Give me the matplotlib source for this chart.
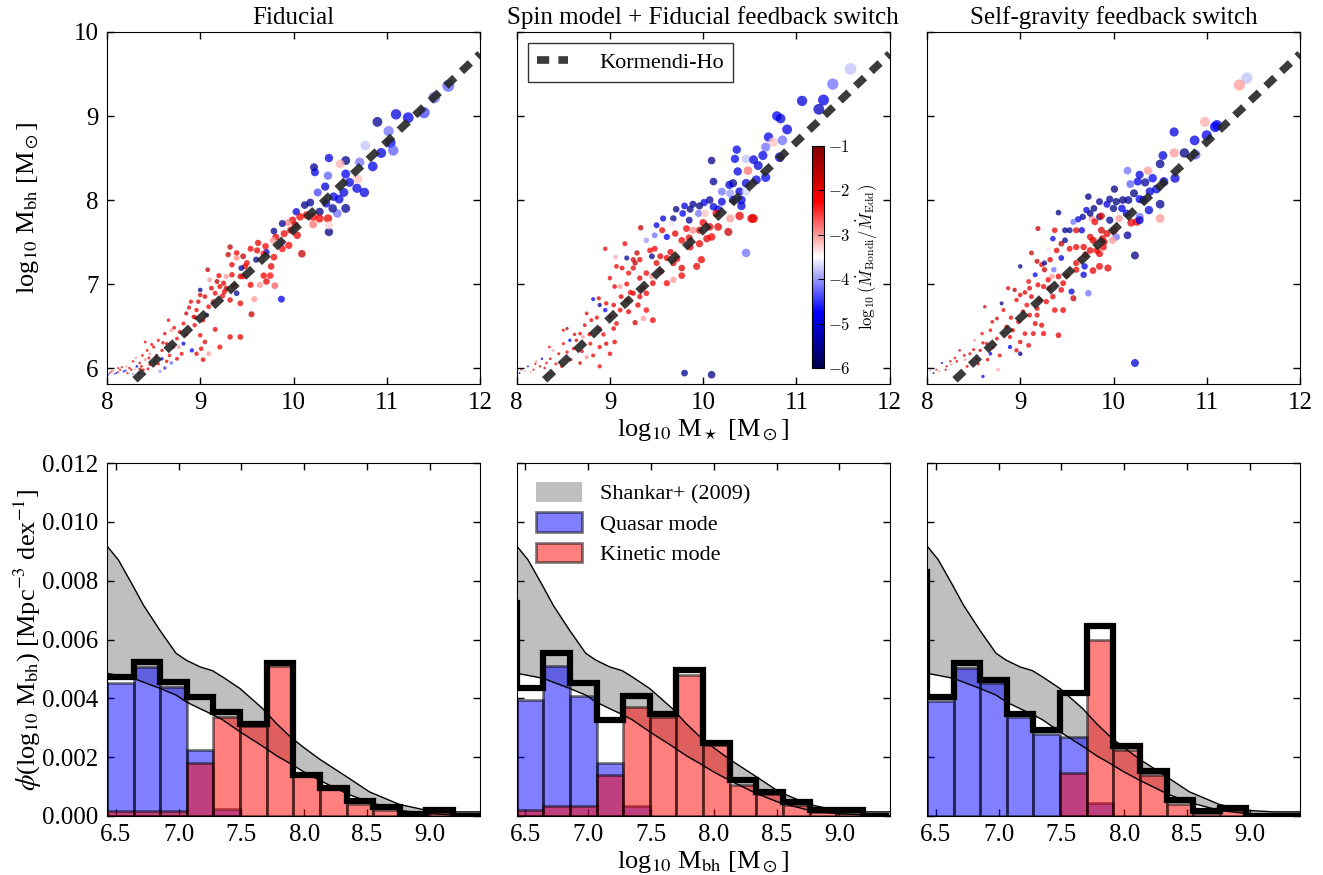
import numpy as np
import matplotlib
matplotlib.use('Agg')
import matplotlib.pyplot as plt
from matplotlib.patches import Patch

plt.rcParams['font.family'] = 'serif'
plt.rcParams['font.serif'] = ['Liberation Serif', 'DejaVu Serif']
plt.rcParams['mathtext.fontset'] = 'stix'
plt.rcParams['xtick.direction'] = 'in'
plt.rcParams['ytick.direction'] = 'in'
plt.rcParams['xtick.top'] = True
plt.rcParams['ytick.right'] = True

# ---------------- data ----------------
titles = ['Fiducial', 'Spin model + Fiducial feedback switch', 'Self-gravity feedback switch']

# Panel 1 : log10 M*, log10 Mbh, log10(Mdot_Bondi/Mdot_Edd)
p1_x = [11.66, 11.51, 11.40, 11.23, 11.10, 10.90, 11.02, 11.04, 11.07, 10.94,
        10.77, 10.71, 10.85, 10.76, 10.68, 10.69, 10.60, 10.56, 10.56, 10.50,
        10.38, 10.22, 10.23, 10.37, 10.34, 10.26, 10.54, 10.49, 10.43, 10.47,
        10.56, 10.42, 10.35, 10.28, 10.18, 10.12, 10.03, 10.38, 10.37, 10.28,
        10.21, 10.14, 10.21, 10.38, 10.07, 9.99, 9.97, 9.94, 9.88, 9.79,
        9.81, 9.78, 10.04, 9.95, 9.87, 9.88, 10.09, 9.79, 9.71, 9.68,
        9.60, 9.54, 9.61, 9.76, 9.68, 9.75, 9.80, 9.48, 9.43, 9.46,
        9.50, 9.46, 9.44, 9.39, 9.32, 9.30, 9.39, 9.34, 9.34, 9.28,
        9.25, 9.21, 9.28, 9.18, 9.26, 9.32, 9.43, 9.39, 9.54, 9.64,
        9.58, 9.71, 9.55, 9.87, 9.43, 9.32, 9.21, 9.16, 9.08, 9.10,
        9.16, 9.14, 9.09, 9.00, 9.00, 9.07, 9.03, 8.98, 8.96, 8.93,
        8.90, 8.94, 9.00, 9.05, 9.01, 8.96, 9.09, 9.03, 8.91, 8.85,
        8.82, 8.78, 8.75, 8.71, 8.66, 8.69, 8.62, 8.64, 8.59, 8.55,
        8.50, 8.46, 8.41, 8.43, 8.82, 8.80, 8.75, 8.69, 8.64, 8.59,
        8.51, 8.46, 8.41, 8.35, 8.32, 8.28, 8.26, 8.21, 8.18, 8.14,
        8.10, 8.07, 8.03, 8.01, 8.34, 8.57, 8.39, 8.05, 8.12, 8.20,
        8.24, 8.30, 8.16, 8.08, 8.37, 8.45, 8.53,
        8.88, 8.95, 9.12, 9.20, 9.05, 8.85, 8.72, 8.60, 8.67, 8.77,
        9.24, 9.36, 8.52, 8.48, 8.38, 8.31, 8.44, 8.55, 8.62, 8.12,
        8.22, 8.28, 8.35, 9.62, 9.70, 9.90, 10.02]
p1_y = [9.36, 9.22, 9.04, 8.98, 9.02, 8.93, 8.82, 8.68, 8.59, 8.56,
        8.65, 8.45, 8.40, 8.09, 8.14, 8.25, 8.21, 8.31, 8.47, 8.43,
        8.50, 8.39, 8.33, 8.29, 8.16, 8.09, 8.09, 8.01, 8.04, 7.84,
        7.90, 7.90, 7.96, 7.86, 7.97, 7.94, 7.86, 7.62, 7.78, 7.78,
        7.80, 7.82, 7.71, 7.70, 7.80, 7.76, 7.64, 7.73, 7.72, 7.63,
        7.56, 7.52, 7.58, 7.46, 7.48, 7.42, 7.36, 7.32, 7.38, 7.36,
        7.29, 7.42, 7.40, 7.21, 7.10, 7.10, 6.98, 7.21, 7.09, 7.09,
        7.25, 7.33, 7.19, 7.37, 7.44, 7.35, 7.31, 7.23, 7.11, 7.09,
        7.01, 6.97, 6.95, 7.03, 6.91, 6.81, 6.77, 6.89, 6.99, 6.99,
        6.82, 7.03, 6.64, 6.82, 6.37, 6.37, 6.25, 6.46, 7.17, 7.05,
        6.89, 6.79, 6.73, 6.87, 6.93, 6.63, 6.57, 6.79, 6.69, 6.61,
        6.79, 6.51, 6.39, 6.31, 6.23, 6.17, 6.17, 6.10, 6.21, 6.65,
        6.53, 6.43, 6.35, 6.25, 6.57, 6.45, 6.41, 6.29, 6.21, 6.33,
        6.25, 6.17, 6.31, 6.21, 6.29, 6.17, 6.11, 6.06, 6.08, 6.11,
        6.08, 6.04, 6.10, 6.06, 6.02, 6.08, 5.98, 6.02, 5.96, 5.98,
        5.94, 5.97, 5.94, 5.92, 5.94, 5.96, 5.98, 5.96, 5.95, 5.97,
        6.00, 5.99, 6.01, 5.93, 6.02, 6.12, 6.15,
        6.72, 6.60, 6.95, 7.10, 6.85, 6.40, 6.48, 6.30, 6.15, 6.25,
        6.86, 6.98, 6.12, 6.28, 6.15, 6.12, 5.99, 6.05, 6.00, 6.00,
        5.94, 5.93, 5.99, 7.49, 7.45, 7.60, 7.70]
p1_c = [-4.3, -4.2, -4.4, -4.8, -5.0, -5.5, -4.2, -4.8, -4.3, -5.0,
        -3.8, -4.2, -4.9, -5.0, -5.0, -3.2, -4.9, -4.8, -5.6, -3.1,
        -5.0, -5.5, -5.0, -4.3, -5.0, -4.4, -5.0, -5.0, -4.9, -4.2,
        -5.5, -5.5, -5.0, -5.6, -5.5, -5.6, -5.0, -5.6, -2.0, -2.2,
        -2.3, -2.1, -2.8, -3.3, -2.2, -2.0, -2.1, -2.9, -5.5, -5.5,
        -2.0, -3.0, -2.0, -2.2, -4.1, -2.3, -1.7, -2.1, -4.8, -2.3,
        -5.6, -2.1, -2.0, -2.0, -2.2, -2.3, -2.7, -2.0, -1.8, -2.2,
        -2.2, -1.6, -5.5, -2.2, -1.7, -1.6, -2.9, -2.0, -2.1, -3.0,
        -2.0, -2.1, -1.7, -1.6, -2.1, -2.0, -2.1, -5.5, -2.1, -3.0,
        -3.0, -2.0, -1.7, -4.9, -2.0, -2.0, -2.2, -2.1, -1.7, -3.0,
        -2.2, -2.0, -2.2, -2.0, -5.5, -5.6, -2.1, -1.9, -2.2, -1.7,
        -2.1, -2.0, -2.1, -2.0, -2.2, -2.0, -3.0, -2.0, -4.8, -1.7,
        -2.1, -2.0, -2.2, -2.0, -2.2, -3.0, -2.0, -2.1, -2.0, -2.3,
        -2.1, -3.0, -2.0, -2.2, -4.9, -2.0, -2.1, -4.2, -2.2, -4.8,
        -5.0, -2.0, -2.9, -2.1, -4.9, -2.2, -2.0, -3.0, -4.8, -2.1,
        -4.9, -3.0, -2.2, -4.8, -2.0, -4.0, -2.2, -2.0, -2.3, -4.5,
        -2.1, -3.2, -2.0, -4.2, -2.1, -2.2, -2.0,
        -2.0, -2.1, -2.0, -2.2, -2.0, -2.0, -2.1, -2.0, -2.2, -3.0,
        -2.1, -2.0, -2.1, -2.0, -2.2, -3.0, -2.0, -2.1, -4.5, -2.0,
        -2.2, -4.0, -2.0, -2.0, -2.2, -2.1, -2.0]

# Panel 2
p2_x = [11.58, 11.39, 11.06, 11.29, 11.24, 10.79, 10.83, 10.90, 10.70, 10.75,
        10.85, 10.67, 10.82, 10.64, 10.36, 10.34, 10.46, 10.54, 10.09, 10.37,
        10.48, 10.59, 10.67, 10.57, 10.46, 10.32, 10.28, 10.11, 10.20, 10.29,
        10.39, 10.46, 10.41, 10.32, 10.20, 10.07, 10.01, 9.96, 10.11, 10.16,
        10.41, 9.89, 9.86, 9.80, 9.71, 9.78, 9.95, 9.85, 9.68, 9.66,
        9.57, 9.50, 10.14, 10.02, 10.39, 10.52, 10.54, 10.29, 10.27, 10.16,
        10.07, 10.00, 9.96, 9.89, 9.82, 9.75, 10.04, 9.96, 9.86, 10.09,
        9.77, 9.70, 9.61, 9.56, 9.48, 9.39, 9.33, 9.48, 9.43, 9.54,
        9.61, 9.68, 9.77, 9.93, 9.98, 9.77, 9.61, 9.68, 9.45, 9.50,
        9.32, 9.29, 9.25, 9.27, 9.16, 9.18, 9.25, 9.20, 9.13, 9.07,
        8.95, 9.06, 9.00, 9.05, 9.11, 9.18, 9.32, 9.39, 9.45, 9.46,
        9.39, 9.32, 9.25, 9.18, 9.30, 9.39, 9.46, 9.36, 9.27, 9.20,
        9.11, 9.04, 8.96, 8.89, 8.95, 8.88, 8.82, 9.00, 9.07, 9.04,
        8.89, 8.80, 8.75, 8.73, 8.68, 8.64, 8.71, 8.79, 8.89, 8.96,
        9.05, 9.00, 8.89, 8.82, 8.75, 8.68, 8.61, 8.57, 8.54, 8.50,
        8.45, 8.39, 8.36, 8.32, 8.27, 8.25, 8.21, 8.18, 8.12, 8.09,
        8.05, 8.03, 8.50, 8.54, 8.48, 8.64, 10.09, 9.80, 10.46,
        8.86, 8.93, 9.12, 9.22, 8.78, 8.62, 8.70, 8.58, 8.42, 8.30,
        8.15, 8.20, 8.35, 9.35, 9.55, 9.65, 9.72, 9.85]
p2_y = [9.56, 9.38, 9.18, 9.19, 9.08, 9.00, 8.97, 8.84, 8.75, 8.69,
        8.71, 8.63, 8.51, 8.53, 8.60, 8.49, 8.49, 8.48, 8.47, 8.34,
        8.35, 8.41, 8.27, 8.24, 8.20, 8.20, 8.18, 8.22, 8.10, 8.08,
        8.10, 8.10, 8.00, 8.00, 7.98, 8.00, 7.97, 7.93, 7.92, 7.89,
        7.93, 7.95, 7.89, 7.93, 7.89, 7.84, 7.84, 7.76, 7.78, 7.72,
        7.78, 7.70, 7.84, 7.84, 7.81, 7.78, 7.78, 7.78, 7.62, 7.68,
        7.68, 7.73, 7.64, 7.64, 7.66, 7.65, 7.54, 7.48, 7.44, 7.56,
        7.52, 7.60, 7.56, 7.64, 7.58, 7.52, 7.67, 7.42, 7.40, 7.33,
        7.31, 7.25, 7.19, 7.21, 7.29, 7.10, 7.01, 7.05, 7.33, 7.25,
        7.29, 7.37, 7.29, 7.25, 7.48, 7.31, 7.19, 7.13, 7.19, 7.21,
        7.42, 7.32, 7.07, 6.97, 6.97, 7.00, 7.07, 7.13, 7.09, 7.01,
        6.89, 6.85, 6.89, 6.81, 6.75, 6.69, 6.57, 6.59, 6.54, 6.67,
        6.69, 6.75, 6.77, 6.75, 6.69, 6.83, 6.82, 6.61, 6.53, 6.47,
        6.47, 6.57, 6.65, 6.51, 6.41, 6.33, 6.37, 6.29, 6.25, 6.29,
        6.31, 6.17, 6.02, 6.15, 6.13, 6.06, 6.23, 6.33, 6.19, 6.29,
        6.17, 6.21, 6.11, 6.06, 6.11, 6.02, 6.08, 5.98, 6.02, 5.96,
        5.98, 5.94, 6.45, 6.47, 6.02, 5.94, 5.92, 5.94, 7.37,
        6.60, 6.40, 6.85, 6.90, 6.40, 6.40, 6.20, 6.10, 6.05, 6.00,
        5.95, 6.05, 6.25, 6.95, 7.15, 7.38, 7.30, 7.55]
p2_c = [-3.8, -4.2, -5.0, -4.9, -5.2, -4.8, -5.0, -4.9, -4.9, -3.2,
        -4.2, -4.2, -4.9, -4.9, -4.9, -4.8, -3.8, -5.0, -5.6, -4.9,
        -2.8, -5.0, -4.8, -5.0, -5.0, -5.6, -5.0, -5.5, -4.2, -4.0,
        -5.0, -3.7, -4.8, -4.9, -5.0, -5.5, -4.9, -5.6, -5.0, -4.8,
        -5.0, -5.5, -5.6, -5.0, -5.6, -4.8, -4.2, -5.5, -5.5, -3.6,
        -5.0, -5.0, -2.2, -3.2, -2.0, -1.9, -2.0, -3.0, -1.7, -2.0,
        -2.1, -2.2, -2.0, -2.9, -2.2, -3.5, -2.0, -2.1, -2.0, -2.2,
        -2.1, -2.0, -4.8, -2.1, -4.2, -4.0, -1.7, -2.1, -2.2, -2.0,
        -2.1, -1.8, -2.0, -2.0, -2.1, -2.1, -2.2, -3.0, -5.5, -2.0,
        -2.1, -1.7, -2.0, -1.6, -2.1, -5.5, -2.0, -2.2, -2.0, -2.1,
        -2.0, -3.1, -2.1, -2.0, -3.0, -2.2, -2.0, -2.1, -3.0, -2.0,
        -2.2, -2.1, -2.0, -2.1, -2.0, -2.3, -2.1, -3.0, -1.7, -2.0,
        -2.1, -2.0, -2.2, -5.5, -4.8, -2.0, -5.0, -2.0, -2.1, -2.0,
        -2.0, -2.2, -2.1, -2.0, -2.1, -2.0, -3.0, -2.2, -2.0, -2.0,
        -2.1, -2.0, -2.1, -2.0, -2.9, -2.0, -2.1, -4.8, -2.0, -2.2,
        -2.0, -3.0, -2.1, -2.0, -4.9, -2.2, -3.0, -2.1, -4.8, -3.0,
        -2.0, -4.9, -2.0, -1.6, -2.2, -3.5, -5.6, -5.5, -4.2,
        -2.0, -2.1, -2.0, -2.2, -2.0, -2.0, -2.1, -2.0, -2.2, -2.0,
        -3.0, -2.0, -2.1, -2.0, -2.1, -2.0, -2.2, -2.0]

# Panel 3
p3_x = [11.43, 11.35, 10.98, 11.11, 11.09, 11.00, 10.87, 10.88, 10.65, 10.76,
        10.65, 10.53, 10.50, 10.54, 10.66, 10.37, 10.42, 10.28, 10.26, 10.18,
        10.34, 10.15, 10.46, 10.39, 10.22, 10.28, 10.38, 10.50, 10.50, 10.32,
        10.10, 10.16, 10.03, 9.96, 10.01, 10.09, 10.00, 9.93, 9.85, 9.79,
        9.73, 9.71, 9.85, 9.96, 9.87, 9.77, 9.67, 9.75, 9.80, 10.06,
        10.14, 10.28, 10.19, 10.25, 10.28, 10.01, 9.93, 9.87, 10.03, 10.15,
        9.99, 9.88, 9.80, 9.75, 9.62, 9.57, 9.53, 9.60, 9.66, 9.48,
        9.41, 9.37, 9.35, 9.48, 9.44, 9.53, 9.60, 9.68, 9.75, 9.82,
        9.89, 9.85, 9.78, 9.30, 9.39, 9.44, 9.32, 9.19, 9.12, 9.18,
        9.23, 9.26, 9.26, 9.36, 9.00, 9.60, 9.69, 9.68, 9.78, 9.85,
        9.94, 9.60, 9.64, 9.55, 9.73, 9.57, 9.44, 9.46, 9.41, 9.34,
        9.16, 9.09, 9.10, 9.19, 9.25, 9.31, 9.35, 9.28, 9.21, 9.37,
        9.46, 9.18, 9.07, 9.00, 8.96, 8.87, 8.94, 9.03, 9.10, 9.18,
        8.98, 9.16, 9.23, 9.05, 9.14, 9.25, 9.41, 9.09, 9.00, 8.89,
        8.85, 8.80, 8.82, 8.75, 8.62, 8.68, 8.75, 8.82, 8.89, 8.96,
        9.00, 8.71, 8.64, 8.57, 8.59, 8.51, 8.68, 8.78, 8.53, 8.46,
        8.41, 8.35, 8.32, 8.26, 8.21, 8.16, 8.10, 8.07, 8.03, 8.43,
        8.60, 8.76, 10.23, 10.23,
        8.90, 8.92, 9.05, 8.70, 8.60, 8.50, 8.40, 8.30, 8.20, 8.13,
        8.25, 8.55, 8.65, 9.12, 9.30, 9.50, 9.70, 9.90]
p3_y = [9.45, 9.37, 8.93, 8.89, 8.87, 8.77, 8.71, 8.54, 8.81, 8.56,
        8.56, 8.53, 8.43, 8.22, 8.26, 8.35, 8.26, 8.30, 8.22, 8.19,
        8.21, 8.35, 8.13, 8.10, 8.08, 8.01, 7.88, 7.95, 7.78, 8.00,
        8.00, 8.00, 7.98, 8.01, 8.13, 7.90, 7.90, 7.95, 7.98, 7.90,
        8.04, 7.88, 7.80, 7.76, 7.81, 7.78, 7.80, 7.84, 7.74, 7.78,
        7.84, 7.80, 7.73, 7.74, 7.76, 7.64, 7.60, 7.64, 7.56, 7.58,
        7.52, 7.54, 7.52, 7.56, 7.77, 7.74, 7.64, 7.64, 7.64, 7.64,
        7.85, 7.64, 7.54, 7.52, 7.48, 7.42, 7.44, 7.44, 7.40, 7.40,
        7.44, 7.36, 7.52, 7.41, 7.40, 7.31, 7.29, 7.66, 7.37, 7.27,
        7.23, 7.17, 7.25, 7.17, 7.21, 7.25, 7.21, 7.11, 7.16, 7.21,
        7.19, 7.17, 7.29, 6.91, 6.89, 6.83, 6.93, 7.01, 7.09, 7.09,
        7.11, 7.03, 6.95, 6.99, 6.97, 6.95, 6.85, 6.79, 6.81, 6.69,
        6.69, 6.71, 6.75, 6.87, 6.81, 6.95, 6.93, 6.67, 6.63, 6.63,
        6.55, 6.53, 6.51, 6.41, 6.41, 6.41, 6.39, 6.27, 6.31, 6.37,
        6.49, 6.77, 6.69, 6.59, 6.73, 6.45, 6.35, 6.39, 6.25, 6.21,
        6.17, 6.25, 6.29, 6.21, 6.41, 6.33, 6.17, 6.15, 6.11, 6.17,
        6.10, 6.21, 6.08, 6.04, 6.02, 6.06, 5.98, 5.94, 5.97, 6.02,
        5.90, 5.98, 6.06, 7.34,
        6.60, 6.45, 6.90, 6.55, 6.30, 6.22, 6.15, 6.12, 5.98, 5.96,
        6.08, 6.05, 6.10, 6.85, 7.05, 7.10, 7.35, 7.50]
p3_c = [-3.8, -3.0, -3.1, -4.9, -4.8, -4.8, -4.9, -4.3, -5.0, -5.6,
        -3.0, -5.0, -5.5, -4.9, -5.0, -3.0, -4.8, -5.0, -4.9, -4.3,
        -5.5, -4.2, -5.0, -5.0, -5.6, -4.9, -5.0, -5.5, -3.0, -4.8,
        -5.6, -5.5, -5.6, -5.5, -5.6, -4.9, -5.6, -5.0, -5.5, -5.6,
        -5.6, -5.0, -5.6, -5.5, -2.0, -3.0, -5.5, -5.6, -2.1, -3.0,
        -4.8, -4.2, -2.0, -2.1, -5.0, -2.2, -2.0, -1.8, -4.2, -5.5,
        -3.0, -2.1, -3.0, -2.0, -5.0, -4.2, -5.5, -2.0, -5.0, -5.5,
        -5.6, -2.0, -4.9, -5.5, -1.6, -2.1, -2.0, -2.1, -2.0, -2.2,
        -2.1, -2.0, -1.9, -3.4, -2.0, -5.0, -2.0, -1.6, -1.7, -1.7,
        -2.1, -1.7, -5.5, -4.2, -5.6, -2.0, -4.9, -5.0, -2.0, -2.1,
        -2.0, -2.1, -3.0, -5.0, -4.2, -1.7, -2.1, -2.0, -2.0, -3.0,
        -4.8, -2.1, -2.0, -2.0, -2.1, -2.0, -2.0, -2.1, -2.0, -2.2,
        -2.1, -2.0, -2.2, -2.0, -2.1, -2.0, -1.7, -2.0, -2.1, -2.2,
        -2.0, -2.1, -2.0, -2.1, -2.0, -2.2, -2.0, -2.1, -2.0, -2.2,
        -2.0, -5.5, -2.1, -2.0, -1.6, -2.1, -2.0, -3.0, -4.9, -2.0,
        -5.5, -2.1, -2.0, -2.0, -2.2, -3.0, -4.8, -2.0, -2.1, -2.0,
        -3.0, -2.1, -2.0, -3.0, -2.1, -4.8, -2.0, -4.9, -3.0, -2.1,
        -4.8, -3.1, -5.0, -5.6,
        -2.0, -2.1, -2.0, -2.1, -2.0, -2.2, -2.0, -2.1, -2.0, -3.0,
        -2.0, -2.1, -2.0, -2.0, -2.1, -2.0, -2.2, -2.0]

# Kormendy & Ho relation (endpoints)
kh_x = [8.30, 12.0]
kh_y = [5.86, 9.74]

# Black hole mass function: bin edges (first bin lies left of plotted range)
mbh_edges = [6.218, 6.430, 6.642, 6.854, 7.066, 7.278, 7.490, 7.702, 7.914,
             8.126, 8.338, 8.550, 8.762, 8.974, 9.186, 9.398]
# values in units of 1e-3 Mpc^-3 dex^-1
tot1 = [4.71, 4.71, 5.24, 4.54, 4.03, 3.54, 3.14, 5.19, 1.38, 0.96, 0.51, 0.31, 0.08, 0.22, 0.0]
qso1 = [4.51, 4.51, 5.07, 4.37, 2.24, 0.25, 0.0, 0.0, 0.0, 0.0, 0.0, 0.0, 0.0, 0.0, 0.0]
kin1 = [0.17, 0.17, 0.17, 0.17, 1.80, 3.35, 3.05, 5.10, 1.38, 0.96, 0.42, 0.22, 0.08, 0.14, 0.0]
tot2 = [7.23, 4.34, 5.53, 4.51, 3.26, 4.07, 3.46, 4.96, 2.49, 1.21, 0.82, 0.48, 0.19, 0.19, 0.0]
qso2 = [3.96, 3.96, 5.10, 4.07, 1.80, 0.34, 0.0, 0.0, 0.0, 0.0, 0.0, 0.0, 0.0, 0.0, 0.0]
kin2 = [0.22, 0.22, 0.34, 0.34, 1.38, 3.71, 3.37, 4.79, 2.41, 1.04, 0.76, 0.36, 0.14, 0.08, 0.0]
tot3 = [8.31, 4.05, 5.21, 4.62, 3.48, 2.92, 4.19, 6.46, 2.37, 1.52, 0.53, 0.16, 0.28, 0.0, 0.0]
qso3 = [3.92, 3.92, 5.04, 4.51, 3.37, 2.78, 2.69, 0.44, 0.0, 0.0, 0.0, 0.0, 0.0, 0.0, 0.0]
kin3 = [0.0, 0.0, 0.0, 0.0, 0.0, 0.0, 1.46, 6.00, 2.26, 1.38, 0.42, 0.08, 0.19, 0.0, 0.0]

# Shankar+ (2009) band, units 1e-3
sh_x = [6.43, 6.52, 6.64, 6.72, 6.85, 6.98, 7.06, 7.17, 7.27, 7.35, 7.49,
        7.67, 7.78, 7.89, 7.99, 8.12, 8.34, 8.52, 8.76, 8.98, 9.19, 9.40]
sh_hi = [9.18, 8.71, 7.80, 7.17, 6.32, 5.53, 5.30, 5.07, 4.94, 4.73, 4.33,
         3.65, 3.14, 2.69, 2.35, 1.94, 1.33, 0.82, 0.39, 0.19, 0.14, 0.14]
sh_lo = [4.85, 4.78, 4.68, 4.55, 4.34, 4.11, 3.88, 3.65, 3.45, 3.27, 2.86,
         2.37, 2.05, 1.78, 1.52, 1.22, 0.76, 0.46, 0.19, 0.08, 0.04, 0.02]

scatter_sets = [(p1_x, p1_y, p1_c), (p2_x, p2_y, p2_c), (p3_x, p3_y, p3_c)]
hist_sets = [(tot1, qso1, kin1), (tot2, qso2, kin2), (tot3, qso3, kin3)]

for sx, sy, sc_ in scatter_sets:
    assert len(sx) == len(sy) == len(sc_), (len(sx), len(sy), len(sc_))

# ---------------- figure ----------------
W, H = 1323, 875
fig = plt.figure(figsize=(W / 100, H / 100), dpi=100)

lefts = [107, 516.7, 927]
aw = 373
top_y0, top_y1 = 32, 384
bot_y0, bot_y1 = 463, 816

def frac(l, t, w, h):
    return [l / W, 1 - (t + h) / H, w / W, h / H]

tick_fs = 18
edges = np.array(mbh_edges)
centers = 0.5 * (edges[:-1] + edges[1:])
widths = np.diff(edges)
shx = np.array(sh_x)

sc_handle = None
for i in range(3):
    # ---- top scatter ----
    ax = fig.add_axes(frac(lefts[i], top_y0, aw, top_y1 - top_y0))
    x = np.array(scatter_sets[i][0]); y = np.array(scatter_sets[i][1]); c = np.array(scatter_sets[i][2])
    dpx = np.clip(2.6 + 2.8 * (x - 8.3), 2.0, None)
    s = (dpx * 0.72) ** 2
    sc = ax.scatter(x, y, c=c, s=s, cmap='seismic', vmin=-6, vmax=-1,
                    alpha=0.75, linewidths=0, zorder=2)
    ax.plot(kh_x, kh_y, color='0.15', lw=5.5, alpha=0.9,
            linestyle=(0, (1.6, 1.2)), dash_capstyle='butt', zorder=3,
            label='Kormendi-Ho')
    ax.set_xlim(8, 12)
    ax.set_ylim(5.81, 10)
    ax.set_xticks([8, 9, 10, 11, 12])
    ax.set_yticks([6, 7, 8, 9, 10])
    ax.tick_params(labelsize=tick_fs, length=5, width=1, pad=6)
    ax.set_title(titles[i], fontsize=18, pad=6)
    if i == 0:
        ax.set_ylabel(r'log$_{10}$ M$_{\rm bh}$ [M$_\odot$]', fontsize=19)
        ax.yaxis.set_label_coords(-0.178, 0.5)
    else:
        ax.set_yticklabels([])
    if i == 1:
        ax.set_xlabel(r'log$_{10}$ M$_\star$ [M$_\odot$]', fontsize=19, labelpad=2)
        leg = ax.legend(loc='upper left', fontsize=16, fancybox=False,
                        edgecolor='k', handlelength=1.4, borderpad=0.42,
                        handletextpad=1.4, borderaxespad=0.5)
        leg.get_frame().set_linewidth(1.0)
        sc_handle = sc

    # ---- bottom histogram ----
    bx = fig.add_axes(frac(lefts[i], bot_y0, aw, bot_y1 - bot_y0))
    tot, qso, kin = [np.array(v) * 1e-3 for v in hist_sets[i]]
    bx.fill_between(shx, np.array(sh_lo) * 1e-3, np.array(sh_hi) * 1e-3,
                    color='gray', alpha=0.5, lw=0, zorder=1)
    mq = qso > 0
    bx.bar(centers[mq], qso[mq], width=widths[mq], color='blue', alpha=0.5,
           edgecolor='k', lw=2, zorder=2)
    mk = kin > 0
    bx.bar(centers[mk], kin[mk], width=widths[mk], color='red', alpha=0.5,
           edgecolor='k', lw=2, zorder=2.1)
    bx.plot(shx, np.array(sh_lo) * 1e-3, color='k', lw=1, zorder=3)
    bx.plot(shx, np.array(sh_hi) * 1e-3, color='k', lw=1, zorder=3)
    bx.stairs(tot, edges, color='k', lw=4.5, baseline=None, zorder=4)
    bx.set_xlim(6.43, 9.40)
    bx.set_ylim(0, 0.012)
    bx.set_xticks([6.5, 7.0, 7.5, 8.0, 8.5, 9.0])
    bx.set_xticklabels(['6.5', '7.0', '7.5', '8.0', '8.5', '9.0'])
    bx.set_yticks([0, 0.002, 0.004, 0.006, 0.008, 0.010, 0.012])
    bx.tick_params(labelsize=tick_fs, length=5, width=1, pad=6)
    if i == 0:
        bx.set_yticklabels(['0.000', '0.002', '0.004', '0.006', '0.008', '0.010', '0.012'])
        bx.set_ylabel(r'$\phi$(log$_{10}$ M$_{\rm bh}$) [Mpc$^{-3}$ dex$^{-1}$]',
                      fontsize=19)
        bx.yaxis.set_label_coords(-0.168, 0.5)
    else:
        bx.set_yticklabels([])
    if i == 1:
        bx.set_xlabel(r'log$_{10}$ M$_{\rm bh}$ [M$_\odot$]', fontsize=19, labelpad=2)
        handles = [Patch(facecolor='gray', alpha=0.5, edgecolor='none'),
                   Patch(facecolor='blue', alpha=0.5, edgecolor='k', lw=2),
                   Patch(facecolor='red', alpha=0.5, edgecolor='k', lw=2)]
        bx.legend(handles, ['Shankar+ (2009)', 'Quasar mode', 'Kinetic mode'],
                  loc='upper left', frameon=False, fontsize=16,
                  handlelength=2.1, handleheight=1.0, handletextpad=0.8,
                  labelspacing=0.35, borderaxespad=0.45)

# colorbar inset in middle top panel
cax = fig.add_axes(frac(812, 145.7, 12, 222.3))
cb = fig.colorbar(sc_handle, cax=cax, ticks=[-1, -2, -3, -4, -5, -6])
cb.solids.set_alpha(1)
cb.outline.set_linewidth(0.8)
cax.set_yticklabels([r'$-1$', r'$-2$', r'$-3$', r'$-4$', r'$-5$', r'$-6$'])
cax.tick_params(labelsize=12, length=4, width=0.8, direction='in', pad=3, left=False, right=True)
for t in cax.get_yticklabels():
    t.set_math_fontfamily('cm')
cb.set_label(r'$\log_{10}(\dot{M}_{\rm Bondi}/\dot{M}_{\rm Edd})$', fontsize=12,
             math_fontfamily='cm', labelpad=3)

fig.savefig('out.png', dpi=100)
